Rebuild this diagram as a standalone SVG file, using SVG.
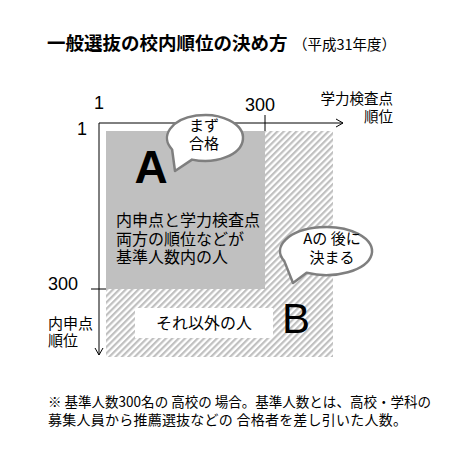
<svg xmlns="http://www.w3.org/2000/svg" width="472" height="457" viewBox="0 0 472 457">
<defs>
<style>
.jp{font-family:"Noto Sans CJK JP","Noto Sans",sans-serif;fill:#000}
.num{font-family:"Liberation Sans",Arial,sans-serif;fill:#000}
.axis{stroke:#000;stroke-width:1;fill:none}
.bubble{fill:#fff;stroke:#7f7f7f;stroke-width:2.5;stroke-linejoin:round}
</style>
<pattern id="hatch" width="4.5" height="4.5" patternUnits="userSpaceOnUse" patternTransform="rotate(45)">
<rect width="4.5" height="4.5" fill="#fff"/>
<rect width="2.2" height="4.5" fill="#c0c0c0"/>
</pattern>
</defs>
<rect width="472" height="457" fill="#fff"/>
<g id="title">
<text class="jp" x="47" y="50" font-size="18.5" font-weight="bold">一般選抜の校内順位の決め方</text>
<text class="jp" x="293" y="50" font-size="14.5">（平成31年度）</text>
</g>
<g id="regionB">
<rect x="106" y="131" width="227" height="226" fill="url(#hatch)"/>
<rect x="135" y="308" width="138" height="30" fill="#fff"/>
<text class="jp" x="204" y="329" font-size="16" text-anchor="middle">それ以外の人</text>
<text class="num" x="282" y="333" font-size="42">B</text>
</g>
<g id="regionA">
<rect x="106" y="131" width="159" height="158" fill="#c0c0c0"/>
<text class="num" x="151" y="183" font-size="46" font-weight="bold" text-anchor="middle">A</text>
<text class="jp" x="116" y="226" font-size="16">内申点と学力検査点</text>
<text class="jp" x="116" y="244.5" font-size="16">両方の順位などが</text>
<text class="jp" x="116" y="263" font-size="16">基準人数内の人</text>
</g>
<g id="connectors">
<path class="axis" d="M99 123 H343 M336 119 L343 123 L336 127"/>
<path class="axis" d="M99 123 V355 M95 348 L99 355 L103 348"/>
<path class="axis" d="M265 115 V131 M91 289 H106"/>
</g>
<g id="axisLabels">
<text class="num" x="99" y="109" font-size="18" text-anchor="middle">1</text>
<text class="num" x="260" y="111" font-size="18" text-anchor="middle">300</text>
<text class="num" x="82" y="135" font-size="18" text-anchor="middle">1</text>
<text class="num" x="63" y="290" font-size="18" text-anchor="middle">300</text>
<text class="jp" x="393" y="104" font-size="14.5" text-anchor="end">学力検査点</text>
<text class="jp" x="393" y="122" font-size="14.5" text-anchor="end">順位</text>
<text class="jp" x="48" y="329" font-size="15">内申点</text>
<text class="jp" x="48" y="346" font-size="15">順位</text>
</g>
<g id="bubble1">
<path class="bubble" d="M175 171 L192 159.6 A38 23 0 1 0 172.1 149.5 Z"/>
<text class="jp" x="204" y="130.5" font-size="15" text-anchor="middle">まず</text>
<text class="jp" x="204" y="148.5" font-size="15" text-anchor="middle">合格</text>
</g>
<g id="bubble2">
<path class="bubble" d="M293 283 L306.6 272.8 A46 24 0 1 0 284.3 261.1 Z"/>
<text class="jp" x="332" y="244" font-size="15" text-anchor="middle">Aの 後に</text>
<text class="jp" x="332" y="263" font-size="15" text-anchor="middle">決まる</text>
</g>
<g id="footnote">
<text class="jp" x="48" y="407" font-size="14" textLength="383" lengthAdjust="spacingAndGlyphs">※ 基準人数300名の 高校の 場合。基準人数とは、高校・学科の</text>
<text class="jp" x="48" y="425" font-size="14" textLength="359" lengthAdjust="spacing">募集人員から推薦選抜などの 合格者を差し引いた人数。</text>
</g>
</svg>
